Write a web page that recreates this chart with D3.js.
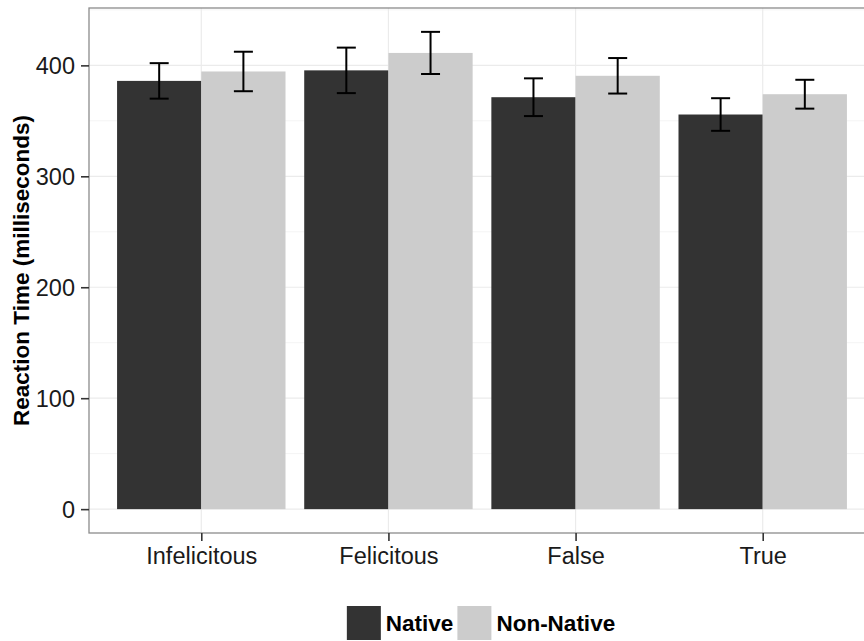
<!DOCTYPE html>
<html>
<head>
<meta charset="utf-8">
<script src="https://cdn.jsdelivr.net/npm/d3@7"></script>
<style>
    body { margin: 0; background: #fff; }
    svg { display: block; font-family: "Liberation Sans", Arial, sans-serif; }
</style>
</head>
<body>
<script>
// reaction time bars, native vs non-native, with error bars

const categories = ["Infelicitous", "Felicitous", "False", "True"]
const groups = ["Native", "Non-Native"]
const nativeRT = [386, 395.5, 371.3, 355.7]
const nonNativeRT = [394.5, 411.2, 390.6, 374]
const nativeErr = [16, 20.5, 17, 14.7]
const nonNativeErr = [17.8, 19, 16, 13]
const yTicks = [0, 100, 200, 300, 400]

const width = 864,
    height = 641

const colors = { "Native": "#333333", "Non-Native": "#cccccc" }

// panel box (right side runs past the picture edge, like the original crop)
const panel = { left: 89, right: 875, top: 8, bottom: 533 }

const rows = categories.map((c, i) => ([
    { cat: c, group: "Native", value: nativeRT[i], err: nativeErr[i] },
    { cat: c, group: "Non-Native", value: nonNativeRT[i], err: nonNativeErr[i] }
])).flat()

const svg = d3.select("body").append("svg")
    .attr("width", width)
    .attr("height", height)

const x = d3.scalePoint()
    .domain(categories)
    .range([panel.left, panel.right])
    .padding(0.6)

const step = x.step()
const xGroup = d3.scaleBand()
    .domain(groups)
    .range([-0.45 * step, 0.45 * step])

const maxY = d3.max(rows, d => d.value + d.err)
const pad = maxY * 0.05
const y = d3.scaleLinear()
    .domain([-pad, maxY + pad])
    .range([panel.bottom, panel.top])

// grid
const grid = svg.append("g")
const minor = d3.range(50, maxY + pad, 100)
grid.selectAll(".minor")
    .data(minor)
    .join("line")
    .attr("x1", panel.left).attr("x2", panel.right)
    .attr("y1", d => y(d)).attr("y2", d => y(d))
    .attr("stroke", "#f4f4f4")
    .attr("stroke-width", 1)
grid.selectAll(".major")
    .data(yTicks)
    .join("line")
    .attr("x1", panel.left).attr("x2", panel.right)
    .attr("y1", d => y(d)).attr("y2", d => y(d))
    .attr("stroke", "#ebebeb")
    .attr("stroke-width", 1.2)
grid.selectAll(".vmajor")
    .data(categories)
    .join("line")
    .attr("x1", d => x(d)).attr("x2", d => x(d))
    .attr("y1", panel.top).attr("y2", panel.bottom)
    .attr("stroke", "#ebebeb")
    .attr("stroke-width", 1.2)

// bars
svg.append("g")
    .selectAll("rect")
    .data(rows)
    .join("rect")
    .attr("x", d => x(d.cat) + xGroup(d.group))
    .attr("width", xGroup.bandwidth())
    .attr("y", d => y(d.value))
    .attr("height", d => y(0) - y(d.value))
    .attr("fill", d => colors[d.group])

// error bars
const whisker = 9.5
const errs = svg.append("g")
    .attr("stroke", "#000")
    .attr("stroke-width", 2)
    .selectAll("g")
    .data(rows)
    .join("g")
    .attr("transform", d => `translate(${x(d.cat) + xGroup(d.group) + xGroup.bandwidth() / 2},0)`)
errs.append("line")
    .attr("y1", d => y(d.value - d.err))
    .attr("y2", d => y(d.value + d.err))
errs.append("line")
    .attr("x1", -whisker).attr("x2", whisker)
    .attr("y1", d => y(d.value + d.err)).attr("y2", d => y(d.value + d.err))
errs.append("line")
    .attr("x1", -whisker).attr("x2", whisker)
    .attr("y1", d => y(d.value - d.err)).attr("y2", d => y(d.value - d.err))

// panel border
svg.append("rect")
    .attr("x", panel.left)
    .attr("y", panel.top)
    .attr("width", panel.right - panel.left)
    .attr("height", panel.bottom - panel.top)
    .attr("fill", "none")
    .attr("stroke", "#8c8c8c")
    .attr("stroke-width", 1.3)

// axes
const yAxis = svg.append("g")
    .attr("transform", `translate(${panel.left},0)`)
    .call(d3.axisLeft(y).tickValues(yTicks).tickSize(8).tickPadding(6))
const xAxis = svg.append("g")
    .attr("transform", `translate(0,${panel.bottom})`)
    .call(d3.axisBottom(x).tickSize(8).tickPadding(6))

;[yAxis, xAxis].forEach(a => {
    a.select(".domain").remove()
    a.selectAll(".tick line").attr("stroke", "#333").attr("stroke-width", 1.6)
    a.selectAll(".tick text")
        .attr("fill", "#1a1a1a")
        .style("font-size", "23.5px")
        .style("font-family", "'Liberation Sans', Arial, sans-serif")
})
yAxis.selectAll(".tick text").attr("dy", "0.36em")

svg.append("text")
    .attr("transform", `translate(29,${(panel.top + panel.bottom) / 2}) rotate(-90)`)
    .attr("text-anchor", "middle")
    .style("font-size", "22.5px")
    .style("font-weight", "bold")
    .attr("fill", "#000")
    .text("Reaction Time (milliseconds)")

// legend
const legend = svg.append("g")
const keySize = 34
let lx = 0
groups.forEach((g) => {
    const item = legend.append("g").attr("transform", `translate(${lx},0)`)
    item.append("rect")
        .attr("width", keySize)
        .attr("height", keySize)
        .attr("fill", colors[g])
    const t = item.append("text")
        .attr("x", keySize + 5)
        .attr("y", keySize / 2)
        .attr("dy", "0.36em")
        .style("font-size", "22.5px")
        .style("font-weight", "bold")
        .text(g)
    lx += keySize + 5 + t.node().getComputedTextLength() + 4
})
legend.attr("transform", `translate(${483 - lx / 2},606)`)
</script>
</body>
</html>
